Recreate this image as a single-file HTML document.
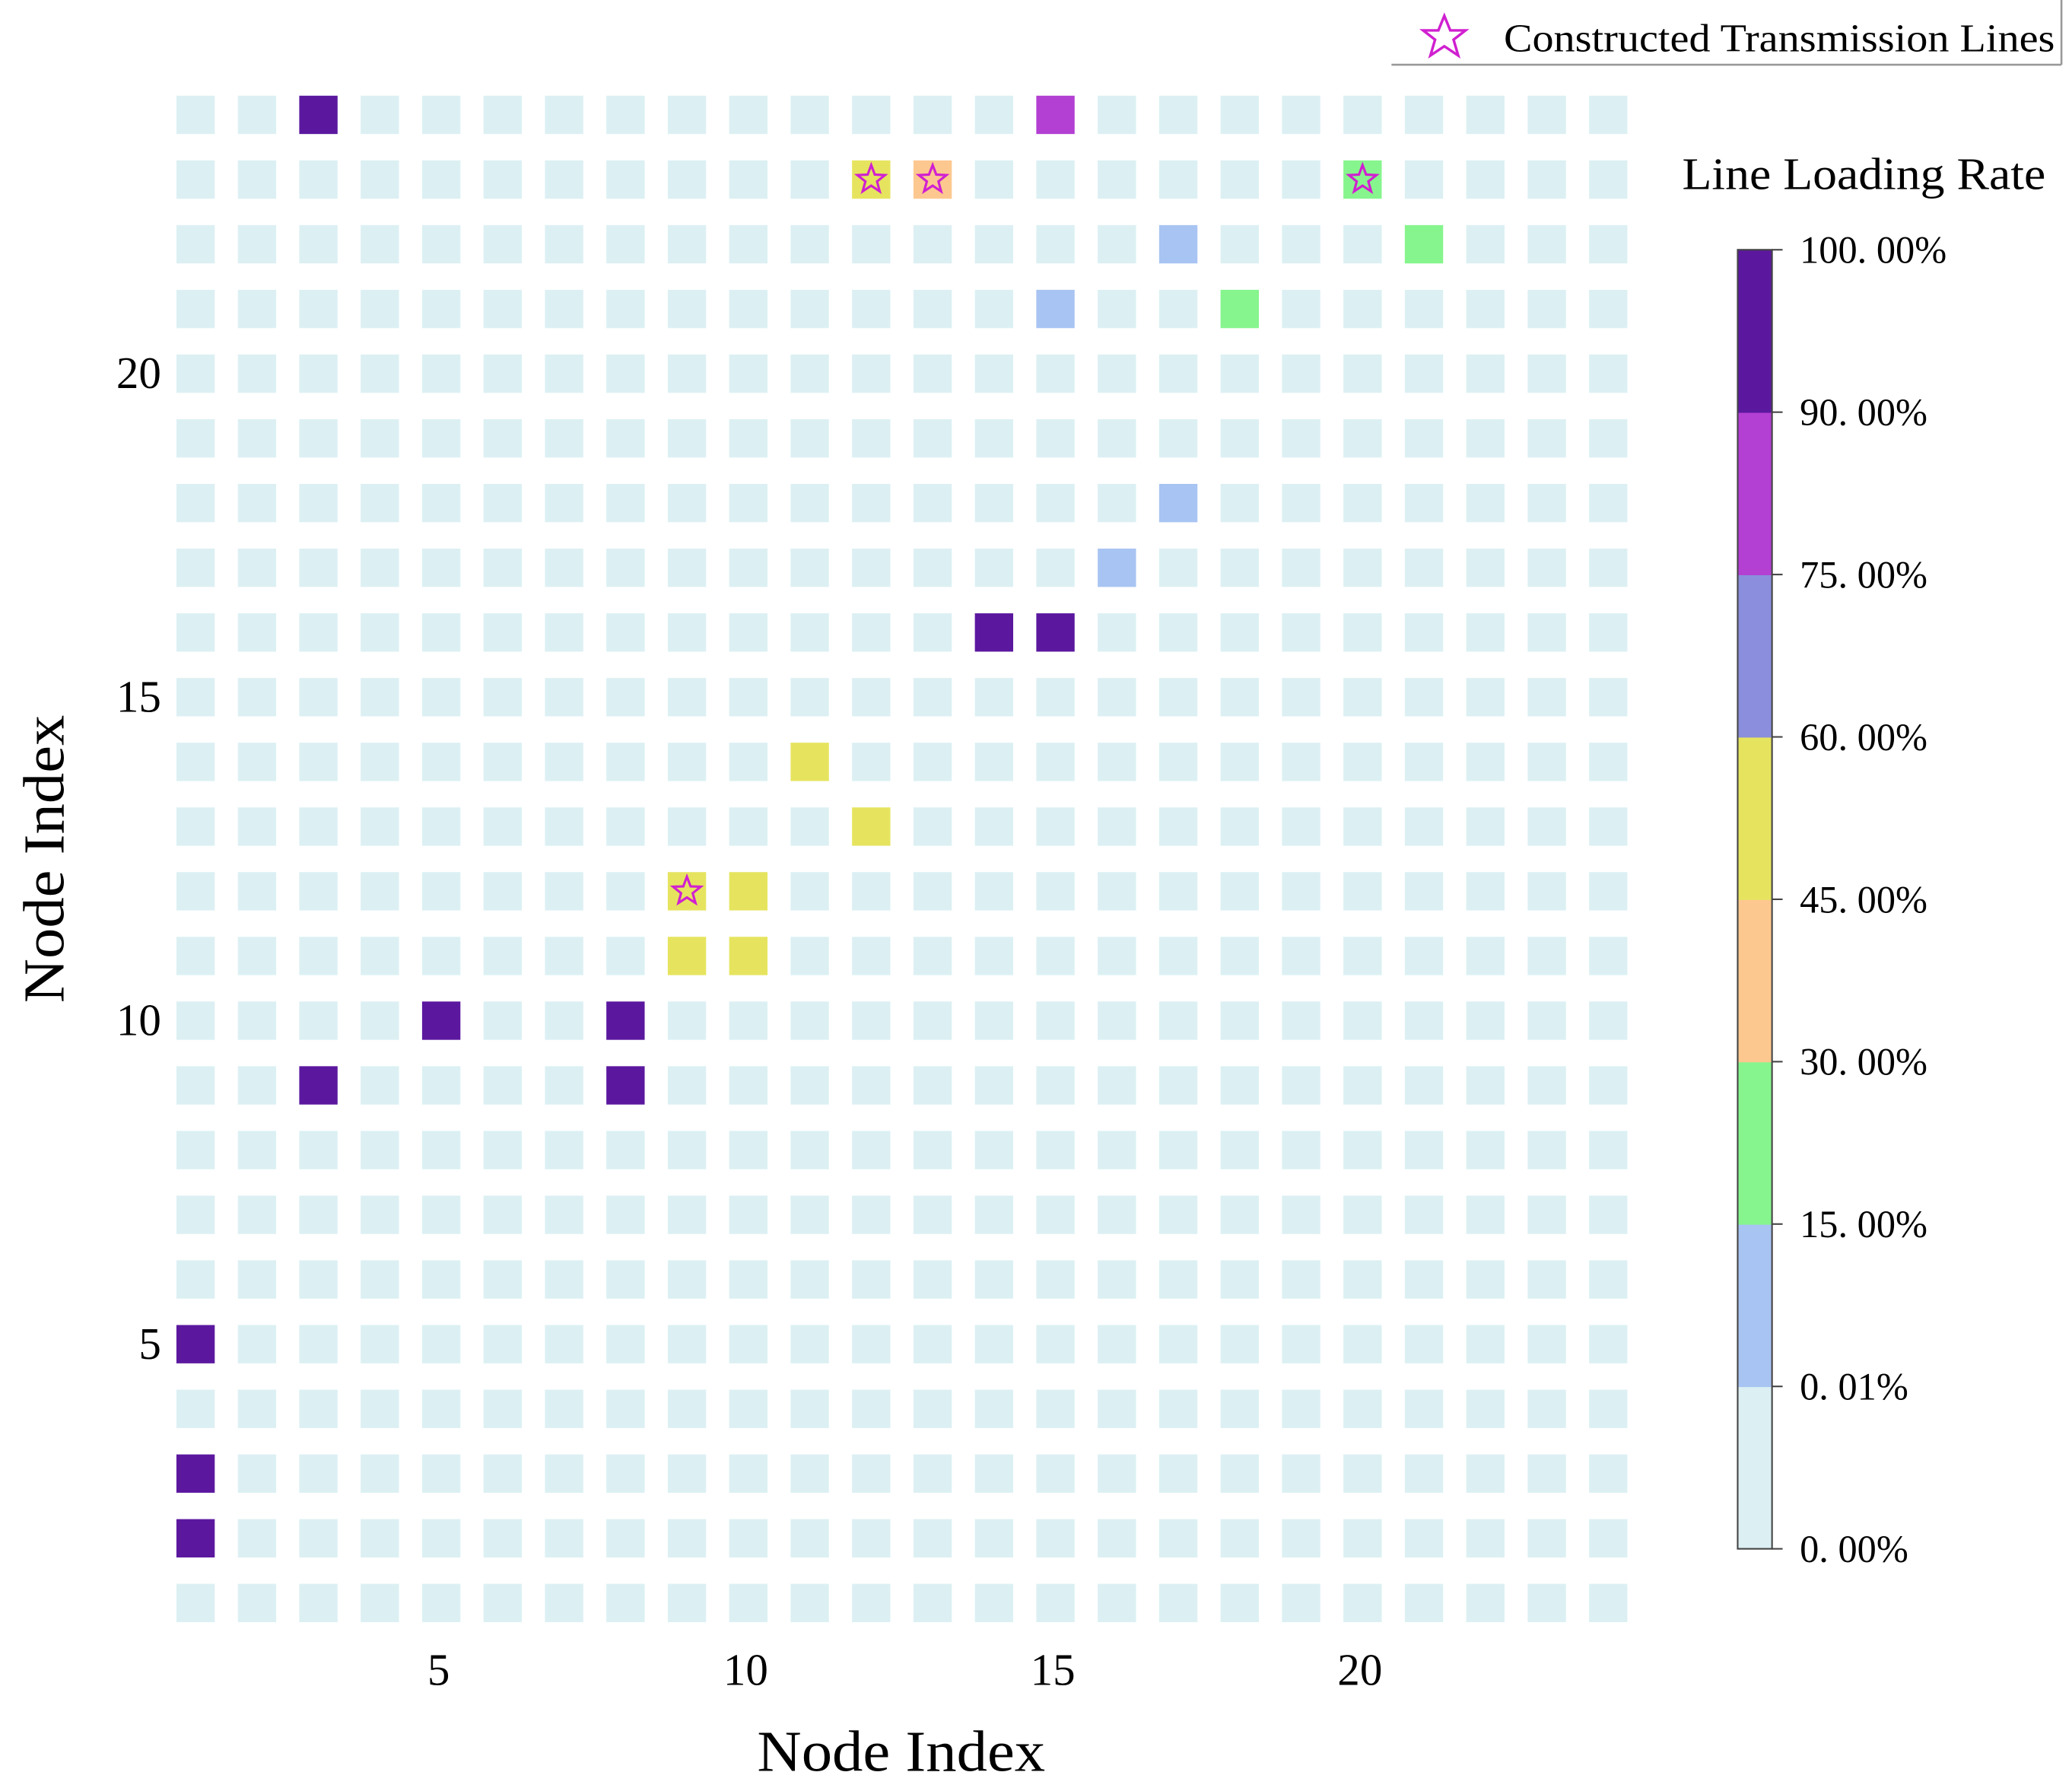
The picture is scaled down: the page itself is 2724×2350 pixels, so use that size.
<!DOCTYPE html>
<html><head><meta charset="utf-8"><style>
html,body{margin:0;padding:0;background:#fff;}
svg{display:block;}
text{font-family:"Liberation Serif",serif;fill:#000;}
</style></head><body>
<svg id="chart" width="2724" height="2350" viewBox="0 0 1568 1353" preserveAspectRatio="none" xmlns="http://www.w3.org/2000/svg">
<g id="legend">
  <line x1="1053" y1="49" x2="1560" y2="49" stroke="#999" stroke-width="1.5"/>
  <line x1="1560" y1="0" x2="1560" y2="49" stroke="#999" stroke-width="1.5"/>
  <polygon points="1093,12 1097.5,23 1109,23 1100,30 1103.5,42 1093,35 1082.5,42 1086,30 1077,23 1088.5,23" fill="none" stroke="#d020d0" stroke-width="2"/>
  <text x="1138" y="39" font-size="30" textLength="417" lengthAdjust="spacingAndGlyphs">Constructed Transmission Lines</text>
</g>
<g id="cells"></g>
<g id="stars"></g>
<g id="xticks"></g>
<g id="yticks"></g>
<text x="682" y="1340" font-size="44" text-anchor="middle" textLength="218" lengthAdjust="spacingAndGlyphs">Node Index</text>
<text transform="translate(48,650) rotate(-90)" font-size="44" text-anchor="middle" textLength="218" lengthAdjust="spacingAndGlyphs">Node Index</text>
<text x="1273" y="143" font-size="34" textLength="275" lengthAdjust="spacingAndGlyphs">Line Loading Rate</text>
<g id="colorbar"></g>
</svg>
<script>
const N = 24;
// loading-rate data: column (from node), row (to node), value %
const cols = [3,15,12,13,20,17,21,15,18,17,16,14,15,11,12,9,10,9,10,5,8,3,8,1,1,1];
const rows = [24,24,23,23,23,22,22,21,21,18,17,16,16,14,13,12,12,11,11,10,10,9,9,5,3,2];
const vals = [95,85,55,38,25,8,22,8,22,8,8,95,95,55,55,55,55,55,55,95,95,95,95,95,95,95];
const starCol = [12,13,20,9];
const starRow = [23,23,23,12];
const xTicks = [5,10,15,20];
const yTicks = [5,10,15,20];
const binEdges = [0,0.01,15,30,45,60,75,90,100];
const binLabels = ["0. 00%","0. 01%","15. 00%","30. 00%","45. 00%","60. 00%","75. 00%","90. 00%","100. 00%"];
const binColors = ["#dcf0f3","#a8c4f2","#86f58d","#fdc88f","#e6e45f","#8a8edc","#b33fd3","#5b189f"];

const NS = "http://www.w3.org/2000/svg";
const xPos = c => 148 + (c-1)*46.48;
const yPos = r => 1213 - (r-1)*48.96;
const cw = 29, ch = 29;
function colorFor(v){
  if (v <= 0) return binColors[0];
  for (let i=1;i<binEdges.length;i++) if (v <= binEdges[i]) return binColors[i-1];
  return binColors[binColors.length-1];
}
const grid = {};
cols.forEach((c,i)=>{ grid[c+"_"+rows[i]] = vals[i]; });
const cellG = document.getElementById("cells");
for (let r=1;r<=N;r++) for (let c=1;c<=N;c++){
  const v = grid[c+"_"+r] || 0;
  const el = document.createElementNS(NS,"rect");
  el.setAttribute("x", xPos(c)-cw/2);
  el.setAttribute("y", yPos(r)-ch/2);
  el.setAttribute("width", cw);
  el.setAttribute("height", ch);
  el.setAttribute("fill", colorFor(v));
  
  
  cellG.appendChild(el);
}
function starPts(cx,cy,R){
  const rr=R*0.42, p=[];
  for(let k=0;k<10;k++){const a=-Math.PI/2+k*Math.PI/5, rad=k%2?rr:R; p.push((cx+rad*Math.cos(a)).toFixed(1)+","+(cy+rad*Math.sin(a)).toFixed(1));}
  return p.join(" ");
}
const starG = document.getElementById("stars");
starCol.forEach((c,i)=>{
  const s = document.createElementNS(NS,"polygon");
  s.setAttribute("points", starPts(xPos(c), yPos(starRow[i]), 11));
  s.setAttribute("fill","none"); s.setAttribute("stroke","#d020d0"); s.setAttribute("stroke-width","1.8");
  
  
  starG.appendChild(s);
});
const xt = document.getElementById("xticks");
xTicks.forEach(t=>{
  const e=document.createElementNS(NS,"text");
  e.setAttribute("x", xPos(t)-2); e.setAttribute("y", 1275);
  e.setAttribute("font-size","34"); e.setAttribute("text-anchor","middle");
  e.textContent=t;
  
  
  xt.appendChild(e);
});
const yt = document.getElementById("yticks");
yTicks.forEach(t=>{
  const e=document.createElementNS(NS,"text");
  e.setAttribute("x", 122); e.setAttribute("y", yPos(t)+11);
  e.setAttribute("font-size","34"); e.setAttribute("text-anchor","end");
  e.textContent=t;
  
  
  yt.appendChild(e);
});
// colorbar
const cb = document.getElementById("colorbar");
const cbTop=189, cbBot=1172, cbX=1315, cbW=26;
const nb = binColors.length, bh=(cbBot-cbTop)/nb;
binColors.forEach((col,i)=>{
  const e=document.createElementNS(NS,"rect");
  e.setAttribute("x",cbX); e.setAttribute("y",cbBot-(i+1)*bh);
  e.setAttribute("width",cbW); e.setAttribute("height",bh+0.5);
  e.setAttribute("fill",col);
  
  
  cb.appendChild(e);
});
const fr=document.createElementNS(NS,"rect");
fr.setAttribute("x",cbX); fr.setAttribute("y",cbTop); fr.setAttribute("width",cbW); fr.setAttribute("height",cbBot-cbTop);
fr.setAttribute("fill","none"); fr.setAttribute("stroke","#444"); fr.setAttribute("stroke-width","1.2");


cb.appendChild(fr);
binLabels.forEach((lab,i)=>{
  const y=cbBot-i*bh;
  const tk=document.createElementNS(NS,"line");
  tk.setAttribute("x1",cbX+cbW); tk.setAttribute("x2",cbX+cbW+8); tk.setAttribute("y1",y); tk.setAttribute("y2",y);
  tk.setAttribute("stroke","#444"); tk.setAttribute("stroke-width","1.2");
  
  
  cb.appendChild(tk);
  const e=document.createElementNS(NS,"text");
  e.setAttribute("x",1362); e.setAttribute("y",y+10);
  e.setAttribute("font-size","29");
  e.textContent=lab;
  
  
  cb.appendChild(e);
});
</script>
</body></html>
